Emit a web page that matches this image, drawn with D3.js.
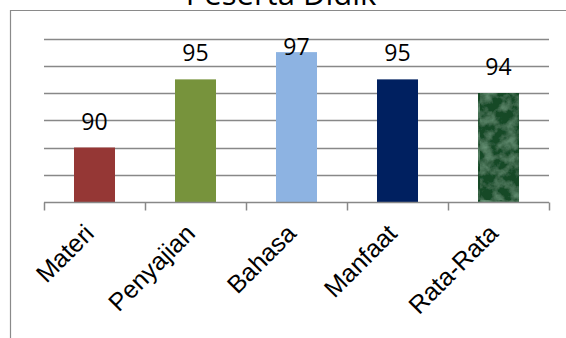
<!DOCTYPE html>
<html><head><meta charset="utf-8">
<script src="https://cdn.jsdelivr.net/npm/d3@7"></script>
<style>html,body{margin:0;padding:0;background:#fff;}svg{display:block;}</style>
</head><body>
<svg id="chart" width="566" height="338"></svg>
<script>
const title = "Peserta Didik";
const categories = ["Materi", "Penyajian", "Bahasa", "Manfaat", "Rata-Rata"];
const values = [90, 95, 97, 95, 94];
const colors = ["#953735", "#77933C", "#8DB3E2", "#002060", "url(#marble)"];
const gridTicks = [88, 90, 92, 94, 96, 98];

const svg = d3.select("#chart");
const W = 566, H = 338;

// marble pattern for the last bar
const defs = svg.append("defs");
const filt = defs.append("filter").attr("id","marbleF").attr("x",0).attr("y",0).attr("width",1).attr("height",1);
filt.append("feTurbulence").attr("type","fractalNoise").attr("baseFrequency","0.08").attr("numOctaves",4).attr("seed",5).attr("result","n");
filt.append("feColorMatrix").attr("in","n").attr("type","matrix")
  .attr("values","0 0 0 0 0.24  0 0 0 0 0.47  0 0 0 0 0.31  1.1 0 0 0 -0.45").attr("result","c");
filt.append("feComposite").attr("in","c").attr("in2","SourceGraphic").attr("operator","atop");
const pat = defs.append("pattern").attr("id","marble").attr("patternUnits","userSpaceOnUse")
  .attr("width",60).attr("height",200);
pat.append("rect").attr("width",60).attr("height",200).attr("fill","#144a27");
pat.append("rect").attr("width",60).attr("height",200).attr("fill","#144a27").attr("filter","url(#marbleF)");

// chart area border (top & left visible)
svg.append("path").attr("d", `M10.5,${H+2} V10.5 H${W+2}`).attr("fill","none").attr("stroke","#8a8a8a").attr("stroke-width",1.2);

// title (partly above the visible area, as in the reference)
svg.append("text").attr("x", 281).attr("y", 5).attr("text-anchor","middle")
  .attr("font-family","Open Sans, sans-serif").attr("font-size", 31).attr("fill","#000").text(title);

const x = d3.scaleBand().domain(categories).range([44, 549]).paddingInner(0.594).paddingOuter(0.297);
const y = d3.scaleLinear().domain([86, 98]).range([202, 38.5]);

// gridlines
svg.append("g").selectAll("line").data(gridTicks).join("line")
  .attr("x1", 44).attr("x2", 549)
  .attr("y1", d => Math.round(y(d)) + 0.5).attr("y2", d => Math.round(y(d)) + 0.5)
  .attr("stroke", "#888").attr("stroke-width", 1.5);

// bars
svg.append("g").selectAll("rect").data(values).join("rect")
  .attr("x", (d,i) => x(categories[i])).attr("width", x.bandwidth())
  .attr("y", d => y(d)).attr("height", d => y(86) - y(d))
  .attr("fill", (d,i) => colors[i]);

// x axis with ticks at category boundaries
const xb = d3.scaleLinear().domain([0, categories.length]).range([44, 549]);
const ax = svg.append("g").attr("transform", `translate(0,${Math.round(y(86))+0.5})`)
  .call(d3.axisBottom(xb).tickValues(d3.range(categories.length + 1)).tickSize(8).tickFormat(""));
ax.selectAll("path,line").attr("stroke","#888").attr("stroke-width",1.5);
ax.select(".domain").attr("d", `M44,0H549`);

// data labels
const plotTop = y(98);
svg.append("g").selectAll("text").data(values).join("text")
  .attr("x", (d,i) => x(categories[i]) + x.bandwidth()/2)
  .attr("y", d => Math.max(y(d) - 18, plotTop + 16))
  .attr("text-anchor","middle").attr("font-family","Open Sans, sans-serif").attr("font-size", 23)
  .attr("fill","#000").text(d => d);

// category labels rotated
svg.append("g").selectAll("text").data(categories).join("text")
  .attr("transform", d => `translate(${x(d) + x.bandwidth()/2 + 1},${235}) rotate(-45)`)
  .attr("text-anchor","end").attr("font-family","Liberation Sans, Arial, sans-serif").attr("font-size", 25)
  .attr("fill","#000").text(d => d);
</script>
</body></html>
